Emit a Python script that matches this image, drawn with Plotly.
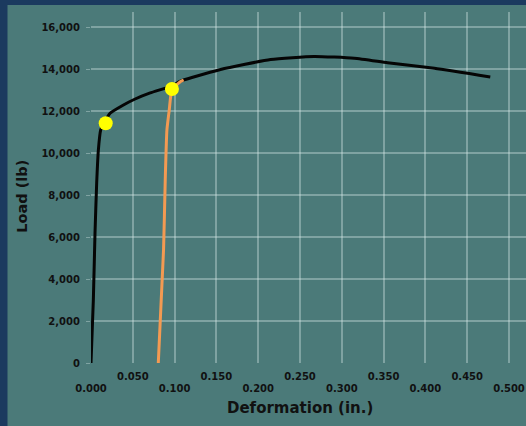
import plotly.graph_objects as go

# Data
curve_x = [0.0, 0.0028, 0.0048, 0.0068, 0.0088, 0.0116, 0.015, 0.0228, 0.0388, 0.0528,
           0.0708, 0.0968, 0.1068, 0.1228, 0.155, 0.2148, 0.2668, 0.3148, 0.3548, 0.4108, 0.4776]
curve_y = [0, 3000, 6190, 8570, 10140, 11100, 11380, 11890, 12286, 12571,
           12860, 13200, 13420, 13620, 13980, 14450, 14600, 14510, 14300, 14033, 13619]

unload_x = [0.0805, 0.0868, 0.0888, 0.0908, 0.0936, 0.0968, 0.1068, 0.1108]
unload_y = [0, 5400, 8714, 11095, 12048, 13000, 13395, 13476]

dots_x = [0.0176, 0.0968]
dots_y = [11414, 13048]

major_ticks = [0.0, 0.1, 0.2, 0.3, 0.4, 0.5]
major_labels = ["0.000", "0.100", "0.200", "0.300", "0.400", "0.500"]
minor_ticks = [0.05, 0.15, 0.25, 0.35, 0.45]
minor_labels = ["0.050", "0.150", "0.250", "0.350", "0.450"]
grid_ticks = [i * 0.05 for i in range(11)]

y_ticks = [0, 2000, 4000, 6000, 8000, 10000, 12000, 14000, 16000]
y_labels = ["0", "2,000", "4,000", "6,000", "8,000", "10,000", "12,000", "14,000", "16,000"]

TEAL = "#4b7a79"
BLUE = "#1b3a5f"
GRID = "rgba(220,235,235,0.36)"
TXT = "#111111"
FONT = "DejaVu Sans"

fig = go.Figure()
fig.add_trace(go.Scatter(x=curve_x, y=curve_y, mode="lines",
                         line=dict(color="#050505", width=3, shape="spline", smoothing=0.5),
                         hoverinfo="skip", showlegend=False))
fig.add_trace(go.Scatter(x=unload_x, y=unload_y, mode="lines",
                         line=dict(color="#f39a52", width=3, shape="spline", smoothing=0.5),
                         hoverinfo="skip", showlegend=False))
fig.add_trace(go.Scatter(x=dots_x, y=dots_y, mode="markers",
                         marker=dict(color="#ffff00", size=14, line=dict(width=0)),
                         hoverinfo="skip", showlegend=False))
fig.add_trace(go.Scatter(x=[0.25], y=[0], xaxis="x2", mode="markers",
                         marker=dict(opacity=0), hoverinfo="skip", showlegend=False))

W, H = 526, 426
L, R, T, B = 91, 0, 12, 63
pw, ph = W - L - R, H - T - B

def px_x(p):
    return (p - L) / pw

def px_y(p):
    return (H - B - p) / ph

tickfont = dict(family=FONT, size=10, color=TXT, weight="bold")

fig.update_layout(
    width=W, height=H,
    margin=dict(l=L, r=R, t=T, b=B, pad=0),
    paper_bgcolor=TEAL, plot_bgcolor=TEAL,
    xaxis=dict(range=[0, pw / 836.0], tickvals=grid_ticks,
               ticktext=[major_labels[i // 2] if i % 2 == 0 else "" for i in range(11)],
               showgrid=True, gridcolor=GRID, gridwidth=1.5, zeroline=False,
               showline=False, ticks="", tickfont=tickfont, ticklabelstandoff=18,
               fixedrange=True),
    xaxis2=dict(overlaying="x", matches="x", anchor="y", side="bottom",
                tickvals=minor_ticks, ticktext=minor_labels, showgrid=False,
                zeroline=False, showline=False, ticks="", tickfont=tickfont,
                ticklabelstandoff=6),
    yaxis=dict(range=[0, ph * 1000 / 21.0], tickvals=y_ticks, ticktext=y_labels,
               showgrid=True, gridcolor=GRID, gridwidth=1.5, zeroline=False,
               showline=False, ticks="outside", ticklen=4, tickcolor=GRID,
               tickfont=tickfont, ticklabelstandoff=4, fixedrange=True),
    shapes=[
        dict(type="rect", xref="paper", yref="paper", x0=px_x(0), x1=px_x(7.5),
             y0=px_y(H), y1=px_y(0), fillcolor=BLUE, line=dict(width=0), layer="above"),
        dict(type="rect", xref="paper", yref="paper", x0=px_x(0), x1=px_x(W),
             y0=px_y(5), y1=px_y(0), fillcolor=BLUE, line=dict(width=0), layer="above"),
    ],
    annotations=[
        dict(text="Deformation (in.)", xref="paper", yref="paper",
             x=px_x(300), y=px_y(408), showarrow=False, xanchor="center", yanchor="middle",
             font=dict(family=FONT, size=15, color=TXT, weight="bold")),
        dict(text="Load (lb)", xref="paper", yref="paper", textangle=-90,
             x=px_x(21.7), y=px_y(196), showarrow=False, xanchor="center", yanchor="middle",
             font=dict(family=FONT, size=14.5, color=TXT, weight="bold")),
    ],
)

fig.write_html("out.html", config={"displayModeBar": False},
               post_script="document.body.style.margin='0px';document.body.style.overflow='hidden';document.documentElement.style.background='" + TEAL + "';")
